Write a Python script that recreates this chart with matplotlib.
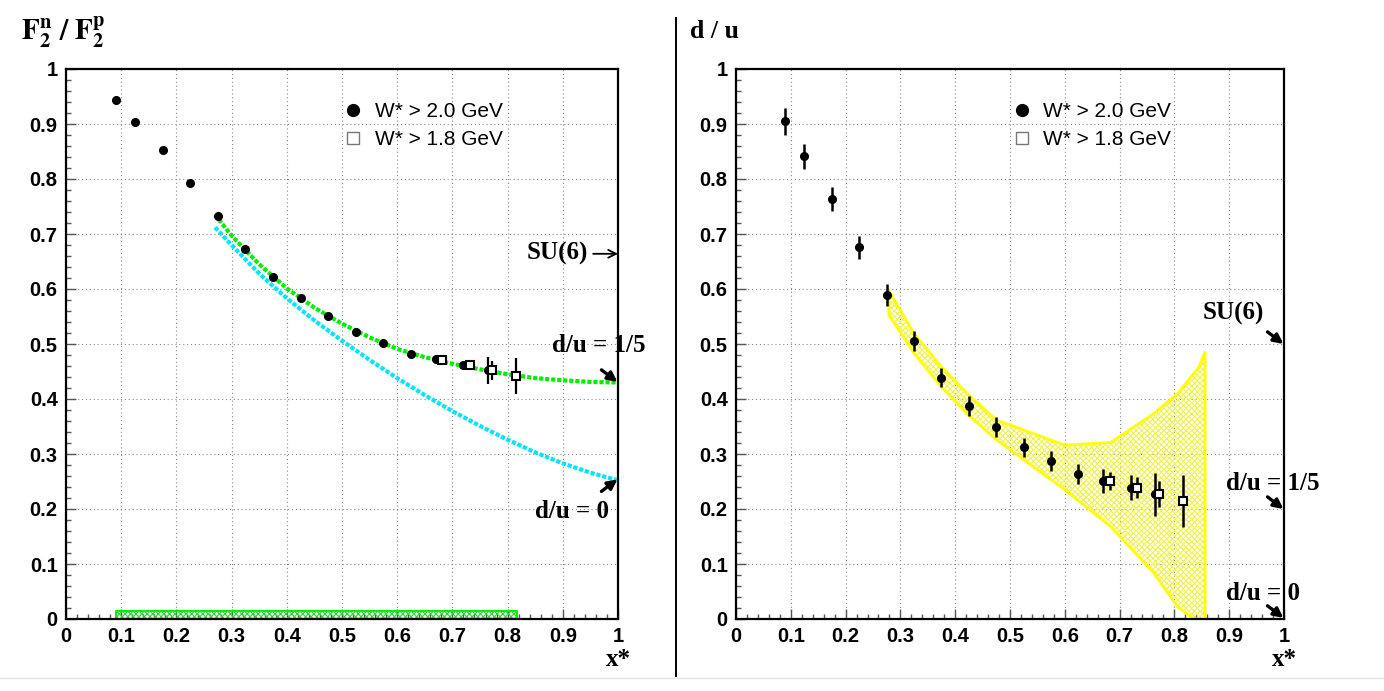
import matplotlib
matplotlib.use("Agg")
import matplotlib.pyplot as plt
from matplotlib.lines import Line2D
from matplotlib.ticker import AutoMinorLocator, FixedLocator

plt.rcParams["font.family"] = ["Liberation Sans", "DejaVu Sans"]
plt.rcParams["mathtext.fontset"] = "stix"
plt.rcParams["hatch.linewidth"] = 0.8

SERIF = ["Liberation Serif", "DejaVu Serif"]

# W* > 2.0 GeV points (shared x for both panels)
x_w20 = [0.09, 0.125, 0.175, 0.225, 0.275, 0.325, 0.375, 0.425, 0.475, 0.525, 0.575, 0.625, 0.67, 0.72, 0.765]
f2_w20 = [0.944, 0.903, 0.853, 0.792, 0.733, 0.672, 0.622, 0.583, 0.551, 0.522, 0.502, 0.482, 0.472, 0.461, 0.452]
f2_w20_err = [0.004, 0.004, 0.004, 0.004, 0.004, 0.004, 0.004, 0.004, 0.004, 0.004, 0.004, 0.004, 0.005, 0.007, 0.024]
du_w20 = [0.905, 0.841, 0.764, 0.676, 0.589, 0.506, 0.439, 0.387, 0.349, 0.312, 0.287, 0.263, 0.251, 0.239, 0.227]
du_w20_err = [0.025, 0.023, 0.022, 0.021, 0.020, 0.018, 0.018, 0.018, 0.018, 0.018, 0.018, 0.018, 0.022, 0.023, 0.039]

# W* > 1.8 GeV points
x_w18 = [0.682, 0.732, 0.772, 0.815]
f2_w18 = [0.471, 0.462, 0.452, 0.442]
f2_w18_err = [0.005, 0.008, 0.018, 0.032]
du_w18 = [0.251, 0.239, 0.227, 0.215]
du_w18_err = [0.016, 0.019, 0.024, 0.047]

# model curves for F2n/F2p
x_model = [0.27, 0.30, 0.35, 0.40, 0.45, 0.50, 0.55, 0.60, 0.65, 0.70, 0.75, 0.80, 0.85, 0.90, 0.95, 1.00]
f2_du15 = [0.735, 0.697, 0.645, 0.601, 0.566, 0.537, 0.512, 0.491, 0.476, 0.464, 0.454, 0.445, 0.438, 0.434, 0.431, 0.430]
f2_du0 = [0.712, 0.680, 0.628, 0.583, 0.543, 0.506, 0.471, 0.438, 0.407, 0.378, 0.351, 0.326, 0.303, 0.283, 0.266, 0.252]

# systematic band, left panel
sys_x = [0.091, 0.817]
sys_h = [0.014, 0.014]

# d/u uncertainty band, right panel
band_x = [0.279, 0.325, 0.375, 0.425, 0.475, 0.600, 0.684, 0.763, 0.806, 0.836, 0.844, 0.856]
band_hi = [0.597, 0.519, 0.458, 0.407, 0.362, 0.316, 0.321, 0.374, 0.410, 0.447, 0.456, 0.486]
band_lo = [0.553, 0.483, 0.422, 0.370, 0.326, 0.235, 0.168, 0.083, 0.022, 0.0, 0.0, 0.0]

tick_vals = [0, 0.1, 0.2, 0.3, 0.4, 0.5, 0.6, 0.7, 0.8, 0.9, 1]
tick_labels = ["0", "0.1", "0.2", "0.3", "0.4", "0.5", "0.6", "0.7", "0.8", "0.9", "1"]

W, H = 1384, 691
fig = plt.figure(figsize=(W / 100, H / 100), dpi=100)
ax1 = fig.add_axes([66 / W, (H - 619) / H, 552 / W, 550 / H])
ax2 = fig.add_axes([736 / W, (H - 619) / H, 548 / W, 550 / H])


def style_axes(ax):
    ax.set_xlim(0, 1)
    ax.set_ylim(0, 1)
    ax.xaxis.set_major_locator(FixedLocator(tick_vals))
    ax.yaxis.set_major_locator(FixedLocator(tick_vals))
    ax.set_xticklabels(tick_labels)
    ax.set_yticklabels(tick_labels)
    ax.xaxis.set_minor_locator(AutoMinorLocator(5))
    ax.yaxis.set_minor_locator(AutoMinorLocator(5))
    ax.tick_params(which="both", direction="in", top=False, right=False, width=1, color="#555555")
    ax.tick_params(which="major", length=7, labelsize=14.5, pad=6)
    ax.tick_params(which="minor", length=3.5)
    for lab in ax.get_xticklabels() + ax.get_yticklabels():
        lab.set_fontweight("bold")
    ax.grid(True, which="major", linestyle=(0, (1, 2.5)), color="#888888", lw=0.8)
    for sp in ax.spines.values():
        sp.set_linewidth(1.6)
    ax.set_axisbelow(True)
    ax.text(1.0, -0.074, "x*", transform=ax.transAxes, ha="center", va="center",
            fontsize=18, fontweight="bold", family=SERIF)


def add_legend(ax):
    handles = [
        Line2D([], [], ls="none", marker="o", ms=8.5, color="k"),
        Line2D([], [], ls="none", marker="s", ms=8.5, mfc="white", mec="#777777", mew=1),
    ]
    ax.legend(handles, ["W* > 2.0 GeV", "W* > 1.8 GeV"], loc="upper left",
              bbox_to_anchor=(0.464, 0.974), frameon=False, fontsize=15,
              handletextpad=0.45, labelspacing=0.45, handlelength=1.2)


style_axes(ax1)
style_axes(ax2)

arrow = dict(arrowstyle="-|>", color="k", lw=2.4, mutation_scale=14, shrinkA=0, shrinkB=0)

# ---- left panel: F2n / F2p ----
ax1.fill_between(sys_x, 0, sys_h, facecolor="none", edgecolor="#22dd22", hatch="xxxxxx", lw=0)
ax1.fill_between(sys_x, 0, sys_h, facecolor="none", edgecolor="#00ee00", lw=1.5)
ax1.plot(x_model, f2_du15, color="#00ee00", lw=3, ls=(0, (1, 0.45)), dash_capstyle="butt")
ax1.plot(x_model, f2_du0, color="#00e5ff", lw=3, ls=(0, (1, 0.45)), dash_capstyle="butt")
ax1.errorbar(x_w20, f2_w20, yerr=f2_w20_err, fmt="o", ms=5.5, color="k", ecolor="k", elinewidth=1.6, capsize=0)
ax1.errorbar(x_w18, f2_w18, yerr=f2_w18_err, fmt="s", ms=6, mfc="white", mec="k", mew=1.5,
             ecolor="k", elinewidth=1.6, capsize=0)
add_legend(ax1)

ax1.text(0.945, 0.664, "SU(6)", ha="right", va="center", fontsize=18, fontweight="bold", family=SERIF)
ax1.annotate("", xy=(1.0, 0.664), xytext=(0.955, 0.664), annotation_clip=False,
             arrowprops=dict(arrowstyle="->", color="k", lw=1.3, mutation_scale=14, shrinkA=0, shrinkB=0))
ax1.text(0.88, 0.497, "d/u = 1/5", ha="left", va="center", fontsize=18, fontweight="bold", family=SERIF,
         clip_on=False, zorder=5)
ax1.text(0.85, 0.196, "d/u = 0", ha="left", va="center", fontsize=18, fontweight="bold", family=SERIF)
ax1.annotate("", xy=(0.999, 0.431), xytext=(0.97, 0.453), arrowprops=arrow, annotation_clip=False)
ax1.annotate("", xy=(0.999, 0.254), xytext=(0.97, 0.232), arrowprops=arrow, annotation_clip=False)

# ---- right panel: d / u ----
ax2.fill_between(band_x, band_lo, band_hi, facecolor="none", edgecolor="#f2f24a", hatch="xxxxxx", lw=0)
ax2.fill(band_x + band_x[::-1], band_hi + band_lo[::-1], facecolor="none", edgecolor="#ffff00", lw=2)
ax2.errorbar(x_w20, du_w20, yerr=du_w20_err, fmt="o", ms=5.5, color="k", ecolor="k", elinewidth=1.8, capsize=0)
ax2.errorbar(x_w18, du_w18, yerr=du_w18_err, fmt="s", ms=6, mfc="white", mec="k", mew=1.5,
             ecolor="k", elinewidth=1.8, capsize=0)
add_legend(ax2)

ax2.text(0.852, 0.555, "SU(6)", ha="left", va="center", fontsize=18, fontweight="bold", family=SERIF)
ax2.text(0.895, 0.247, "d/u = 1/5", ha="left", va="center", fontsize=18, fontweight="bold", family=SERIF,
         clip_on=False)
ax2.text(0.895, 0.046, "d/u = 0", ha="left", va="center", fontsize=18, fontweight="bold", family=SERIF,
         clip_on=False)
ax2.annotate("", xy=(0.999, 0.5), xytext=(0.97, 0.522), arrowprops=arrow, annotation_clip=False)
ax2.annotate("", xy=(0.999, 0.2), xytext=(0.97, 0.222), arrowprops=arrow, annotation_clip=False)
ax2.annotate("", xy=(0.999, 0.002), xytext=(0.97, 0.024), arrowprops=arrow, annotation_clip=False)

# titles and separators
fig.text(21 / W, 1 - 33 / H, r"$\mathbf{F_2^n\ /\ F_2^p}$", ha="left", va="center", fontsize=21)
fig.text(690 / W, 1 - 31 / H, "d / u", ha="left", va="center", fontsize=18.5, fontweight="bold", family=SERIF)
fig.add_artist(Line2D([676 / W, 676 / W], [1 - 18 / H, 1 - 676 / H], color="k", lw=1.4))
fig.add_artist(Line2D([0, 1], [1 - 678 / H, 1 - 678 / H], color="#e4e4e4", lw=1))

fig.savefig("out.png", dpi=100)
